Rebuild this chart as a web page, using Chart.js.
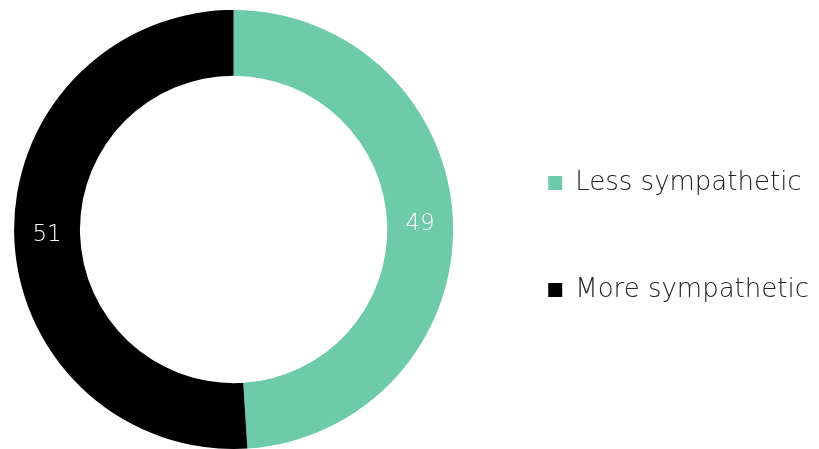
<!DOCTYPE html>
<html>
<head>
<meta charset="utf-8">
<script src="https://cdn.jsdelivr.net/npm/chart.js@4"></script>
<style>
  html, body { margin: 0; padding: 0; background: #fff; }
  #wrap { width: 819px; height: 449px; position: relative; }
</style>
</head>
<body>
<div id="wrap"><canvas id="sympathy-chart"></canvas></div>
<script>
const categories = ['Less sympathetic', 'More sympathetic'];
const shares = [49, 51];
const sliceColors = ['#6ecbaa', '#000000'];

const FONT = '"DejaVu Sans", sans-serif';

// writes each share in the middle of its ring segment
const ringLabels = {
    id: 'ringLabels',
    afterDatasetsDraw(chart) {
        const ctx = chart.ctx;
        const meta = chart.getDatasetMeta(0);
        ctx.save();
        ctx.font = '200 23px ' + FONT;
        ctx.fillStyle = '#ffffff';
        ctx.textAlign = 'center';
        ctx.textBaseline = 'middle';
        meta.data.forEach((arc, i) => {
            const p = arc.tooltipPosition();
            ctx.fillText(String(shares[i]), p.x, p.y);
        });
        ctx.restore();
    }
};

new Chart(document.getElementById('sympathy-chart'), {
    type: 'doughnut',
    data: {
        labels: categories,
        datasets: [{
            data: shares,
            backgroundColor: sliceColors,
            borderWidth: 0
        }]
    },
    options: {
        responsive: true,
        maintainAspectRatio: false,
        animation: false,
        cutout: '70%',
        layout: { padding: { top: 10, left: 0, right: 0, bottom: 0 } },
        plugins: {
            legend: {
                position: 'right',
                // empty title just nudges the items a little lower
                title: { display: true, text: '', font: { size: 10 }, padding: { top: 0, bottom: 2 } },
                labels: {
                    boxWidth: 14,
                    boxHeight: 14,
                    padding: 81,
                    color: '#222',
                    font: { family: FONT, size: 26, weight: '200' }
                }
            },
            tooltip: { enabled: false }
        }
    },
    plugins: [ringLabels]
});
</script>
</body>
</html>
